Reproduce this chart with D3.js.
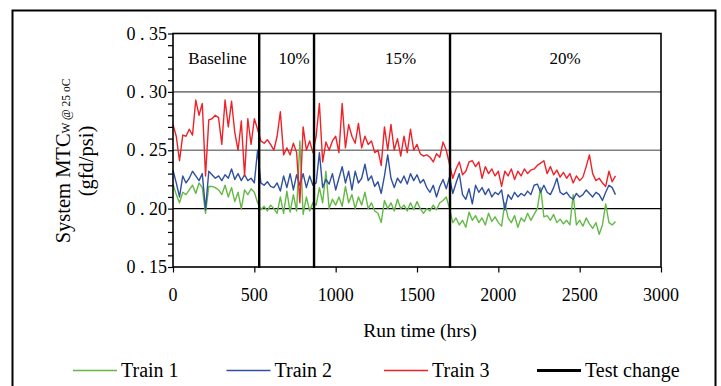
<!DOCTYPE html>
<html><head><meta charset="utf-8">
<script src="https://cdn.jsdelivr.net/npm/d3@7/dist/d3.min.js"></script>
<style>
body{margin:0;background:#fff}
svg{display:block}
text{font-family:"Liberation Serif","Times New Roman",serif;fill:#000}
</style>
</head><body>
<svg id="c" width="721" height="386"></svg>
<script>
// sample times (hrs)
const hours = d3.range(0, 2721, 20);
// Train 1 (green)
const train1 = [
0.221,0.212,0.205,0.214,0.212,0.216,0.220,0.213,0.222,0.218,0.196,0.219,0.219,0.218,0.216,0.212,0.220,0.210,0.218,0.206,0.214,0.200,0.216,0.212,0.217,0.214,0.205,
0.199,0.202,0.198,0.203,0.200,0.196,0.210,0.196,0.215,0.197,0.212,0.198,0.258,0.195,0.210,0.198,0.205,
0.203,0.218,0.205,0.232,0.200,0.208,0.203,0.210,0.202,0.219,0.205,0.212,0.200,0.210,0.203,0.214,0.200,0.205,0.198,0.196,0.188,0.207,0.200,0.205,0.198,0.208,0.200,
0.203,0.198,0.205,0.199,0.206,0.200,0.196,0.200,0.198,0.203,0.199,0.205,0.207,0.210,0.200,
0.188,0.192,0.186,0.190,0.184,0.197,0.190,0.194,0.188,0.192,0.186,0.196,0.189,0.193,0.188,0.185,0.205,0.192,0.188,0.194,0.184,0.192,0.189,0.196,0.190,
0.195,0.200,0.218,0.193,0.194,0.190,0.195,0.188,0.191,0.187,0.190,0.186,0.212,0.186,0.190,0.185,0.192,0.187,0.183,0.188,0.178,0.186,0.204,0.188,0.186,0.189
];
// Train 2 (blue)
const train2 = [
0.233,0.222,0.210,0.228,0.222,0.226,0.232,0.228,0.224,0.230,0.199,0.232,0.229,0.226,0.228,0.224,0.229,0.226,0.234,0.225,0.230,0.224,0.229,0.224,0.226,0.222,0.250,
0.222,0.220,0.223,0.219,0.218,0.222,0.215,0.228,0.218,0.230,0.216,0.229,0.220,0.230,0.218,0.228,0.220,
0.222,0.248,0.218,0.225,0.221,0.230,0.216,0.226,0.236,0.222,0.232,0.216,0.232,0.222,0.226,0.238,0.224,0.228,0.219,0.223,0.213,0.228,0.246,0.226,0.218,0.226,0.222,
0.228,0.221,0.230,0.224,0.229,0.222,0.225,0.218,0.214,0.220,0.210,0.219,0.225,0.217,0.227,
0.213,0.222,0.230,0.212,0.208,0.217,0.204,0.220,0.214,0.218,0.212,0.217,0.210,0.214,0.212,0.216,0.199,0.212,0.208,0.214,0.210,0.213,0.211,0.215,0.212,
0.220,0.221,0.214,0.220,0.214,0.212,0.218,0.226,0.214,0.212,0.214,0.210,0.208,0.213,0.210,0.212,0.216,0.213,0.210,0.214,0.212,0.207,0.214,0.220,0.218,0.212
];
// Train 3 (red)
const train3 = [
0.272,0.262,0.241,0.263,0.262,0.268,0.263,0.293,0.280,0.290,0.228,0.276,0.277,0.280,0.278,0.255,0.293,0.270,0.292,0.265,0.250,0.275,0.228,0.277,0.255,0.277,0.268,
0.258,0.256,0.259,0.255,0.250,0.262,0.283,0.246,0.252,0.246,0.256,0.248,0.205,0.270,0.250,0.258,0.248,
0.262,0.290,0.240,0.257,0.250,0.258,0.262,0.248,0.290,0.252,0.272,0.262,0.256,0.273,0.252,0.262,0.255,0.258,0.248,0.250,0.237,0.270,0.250,0.272,0.250,0.260,0.245,
0.262,0.248,0.268,0.250,0.255,0.247,0.245,0.246,0.244,0.240,0.247,0.244,0.257,0.250,0.238,
0.226,0.234,0.240,0.229,0.232,0.240,0.241,0.236,0.240,0.226,0.236,0.230,0.234,0.228,0.232,0.219,0.232,0.228,0.234,0.225,0.232,0.228,0.234,0.230,0.233,
0.234,0.237,0.239,0.241,0.230,0.236,0.229,0.233,0.227,0.231,0.226,0.230,0.222,0.228,0.224,0.227,0.236,0.246,0.230,0.224,0.226,0.222,0.219,0.232,0.223,0.228
];
const testChanges = [530, 867, 1703];
const phaseLabels = ["Baseline", "10%", "15%", "20%"];
const phaseLabelHours = [274, 745, 1399, 2410];
const yTickLabels = ["0.15", "0.20", "0.25", "0.30", "0.35"];
const xTickLabels = ["0", "500", "1000", "1500", "2000", "2500", "3000"];
const seriesNames = ["Train 1", "Train 2", "Train 3"];
const seriesColors = ["#62b946", "#2f4f9f", "#ee2228"];
const testChangeName = "Test change";

const svg = d3.select("#c");
const L = 173, R = 661, T = 33.5, B = 267;
const x = d3.scaleLinear().domain([0, 3000]).range([L, R]);
const y = d3.scaleLinear().domain([0.15, 0.35]).range([B, T]);

// outer border
svg.append("rect").attr("x", 12.5).attr("y", 10.5).attr("width", 703).attr("height", 400)
  .attr("fill", "none").attr("stroke", "#000").attr("stroke-width", 2);

// gridlines
const yVals = yTickLabels.map(Number);
svg.append("g").selectAll("line").data(yVals.filter(v => v > 0.151 && v < 0.349)).join("line")
  .attr("x1", L).attr("x2", R).attr("y1", d => y(d)).attr("y2", d => y(d))
  .attr("stroke", d => Math.abs(d - 0.20) < 1e-6 ? "#000" : "#808080")
  .attr("stroke-width", d => Math.abs(d - 0.20) < 1e-6 ? 1.2 : 1.6);

// y ticks (minor every 0.01)
const yAxis = svg.append("g").attr("transform", `translate(${L},0)`)
  .call(d3.axisLeft(y).tickValues(d3.range(15, 36).map(d => d / 100)).tickSize(5).tickFormat(""));
yAxis.select(".domain").remove();
yAxis.selectAll("line").attr("stroke", "#000").attr("stroke-width", 1.2);

// x ticks
const xAxis = svg.append("g").attr("transform", `translate(0,${B})`)
  .call(d3.axisBottom(x).tickValues(xTickLabels.map(Number)).tickSize(5.5).tickFormat(""));
xAxis.select(".domain").remove();
xAxis.selectAll("line").attr("stroke", "#000").attr("stroke-width", 1.2);

// y tick labels with wide period
const yl = svg.append("g").selectAll("text").data(yTickLabels).join("text")
  .attr("x", 167).attr("y", d => y(+d) + 6).attr("text-anchor", "end").attr("font-size", 18);
yl.each(function(d) {
  const t = d3.select(this);
  const parts = d.split(".");
  t.append("tspan").text(parts[0]);
  t.append("tspan").attr("dx", 4.5).text(".");
  t.append("tspan").attr("dx", 4.5).text(parts[1]);
});

// x tick labels
svg.append("g").selectAll("text").data(xTickLabels).join("text")
  .attr("x", d => x(+d)).attr("y", 300.5).attr("text-anchor", "middle").attr("font-size", 18)
  .text(d => d);

// data lines
const series = [train1, train2, train3];
const line = d3.line().x((d, i) => x(hours[i])).y(d => y(d));
svg.append("g").selectAll("path").data(series).join("path")
  .attr("d", d => line(d)).attr("fill", "none")
  .attr("stroke", (d, i) => seriesColors[i]).attr("stroke-width", 1.4)
  .attr("stroke-linejoin", "round");

// test change lines
svg.append("g").selectAll("line").data(testChanges).join("line")
  .attr("x1", d => x(d)).attr("x2", d => x(d)).attr("y1", T).attr("y2", B + 1)
  .attr("stroke", "#000").attr("stroke-width", 2.4);

// plot frame
svg.append("rect").attr("x", L).attr("y", T).attr("width", R - L).attr("height", B - T)
  .attr("fill", "none").attr("stroke", "#000").attr("stroke-width", 1.6);

// phase labels
svg.append("g").selectAll("text").data(phaseLabels).join("text")
  .attr("x", (d, i) => x(phaseLabelHours[i])).attr("y", 64).attr("text-anchor", "middle")
  .attr("font-size", 17).text(d => d);

// x axis title
svg.append("text").attr("x", 420).attr("y", 337).attr("text-anchor", "middle")
  .attr("font-size", 19.5).text("Run time (hrs)");

// y axis title
const yt1 = svg.append("text").attr("transform", "translate(70,161) rotate(-90)")
  .attr("text-anchor", "middle").attr("font-size", 20.5);
yt1.append("tspan").text("System MTC");
yt1.append("tspan").attr("font-size", 11.5).text("W @ 25 oC");
svg.append("text").attr("transform", "translate(93,161) rotate(-90)")
  .attr("text-anchor", "middle").attr("font-size", 20.5).text("(gfd/psi)");

// legend
const legItems = seriesNames.map((n, i) => ({name: n, color: seriesColors[i], w: 1.6}))
  .concat([{name: testChangeName, color: "#000", w: 3}]);
const legX = [73, 226.5, 384, 537];
const lg = svg.append("g").selectAll("g").data(legItems).join("g")
  .attr("transform", (d, i) => `translate(${legX[i]},0)`);
lg.append("line").attr("x1", 0).attr("x2", 44).attr("y1", 370.5).attr("y2", 370.5)
  .attr("stroke", d => d.color).attr("stroke-width", d => d.w);
lg.append("text").attr("x", 48).attr("y", 377).attr("font-size", 20).text(d => d.name);
</script>
</body></html>
